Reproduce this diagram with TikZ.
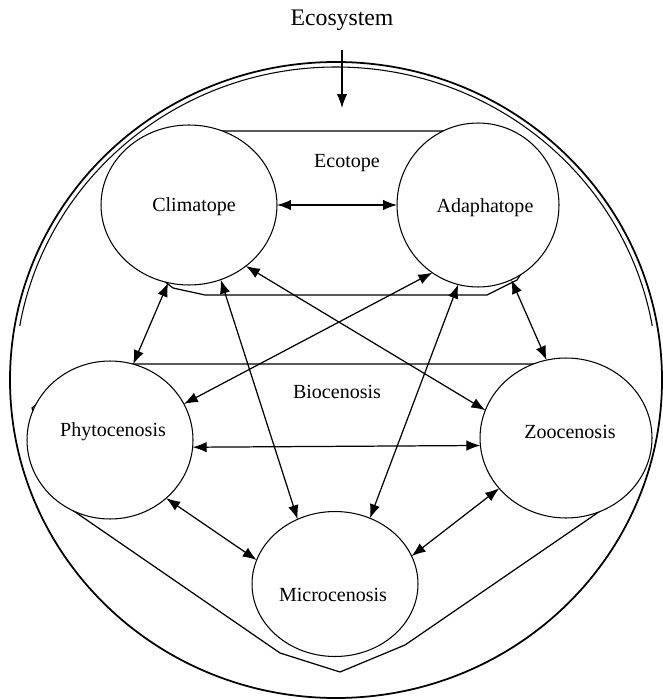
\documentclass[tikz,border=0pt]{standalone}
\usepackage{fontspec}
\setmainfont{Liberation Serif}
\usetikzlibrary{shapes.geometric,arrows.meta}

\begin{document}
\begin{tikzpicture}[x=0.02cm, y=-0.02cm,
    part/.style={draw, ellipse, fill=white, line width=0.6pt, inner sep=0pt, outer sep=0pt},
    txt/.style={font=\fontsize{11.4}{13}\selectfont},
    zone/.style={draw, line width=0.7pt},
    both/.style={line width=0.7pt, {Latex[length=2.8mm,width=2.1mm]}-{Latex[length=2.8mm,width=2.1mm]}}]
    \useasboundingbox (0,0) rectangle (662,699);

    % ecosystem boundary
    \draw[line width=1pt] (336,380) ellipse [x radius=326, y radius=318];
    \begin{scope}
        \clip (0,0) rectangle (662,325);
        \draw[line width=0.6pt] (336,380) ellipse [x radius=321, y radius=313];
    \end{scope}

    % ecotope and biocenosis zones
    \draw[zone] (180,140) -- (210,131) -- (450,131) -- (500,140) -- (530,260) -- (517,280) -- (487,295) -- (205,295) -- (173,288) -- (150,270) -- cycle;
    \draw[zone] (120,364) -- (590,364) -- (635,405) -- (640,460) -- (625,494) -- (405,645) -- (340,672) -- (280,653) -- (65,505) -- (32,408) -- (70,375) -- cycle;

    \node[part, minimum width=3.52cm, minimum height=3.2cm] (clim) at (189,205) {};
    \node[part, minimum width=3.24cm, minimum height=3.28cm] (adap) at (478,205) {};
    \node[part, minimum width=3.32cm, minimum height=3.16cm] (phyto) at (110,440) {};
    \node[part, minimum width=3.44cm, minimum height=3.2cm] (zoo) at (566,438) {};
    \node[part, minimum width=3.32cm, minimum height=2.9cm] (micro) at (335,584) {};

    \node[txt] (clim-t) at (194,207) {Climatope};
    \node[txt] (adap-t) at (485,208) {Adaphatope};
    \node[txt] (phyto-t) at (113,432) {Phytocenosis};
    \node[txt] (zoo-t) at (570,432) {Zoocenosis};
    \node[txt] (micro-t) at (333,595) {Microcenosis};
    \node[txt] (ecotope) at (347,163) {Ecotope};
    \node[txt] (bio) at (337,392) {Biocenosis};

    \node[font=\fontsize{13.5}{16}\selectfont] (eco) at (342,20) {Ecosystem};
    \coordinate (eco-out) at (342,50);
    \coordinate (eco-in) at (342,108);
    \draw[line width=0.7pt, -{Latex[length=2.8mm,width=2.1mm]}] (eco-out) -- (eco-in);

    \draw[both] (clim) -- (adap);
    \foreach \a/\b in {clim.255/phyto.73, adap.294/zoo.104, clim.293/micro.120, adap.256/micro.62,
                       clim.313/zoo.161, adap.236/phyto.26, phyto.314/micro.163, zoo.217/micro.20,
                       phyto.-5/zoo.185}{
        \draw[both] (\a) -- (\b);
    }
\end{tikzpicture}
\end{document}
